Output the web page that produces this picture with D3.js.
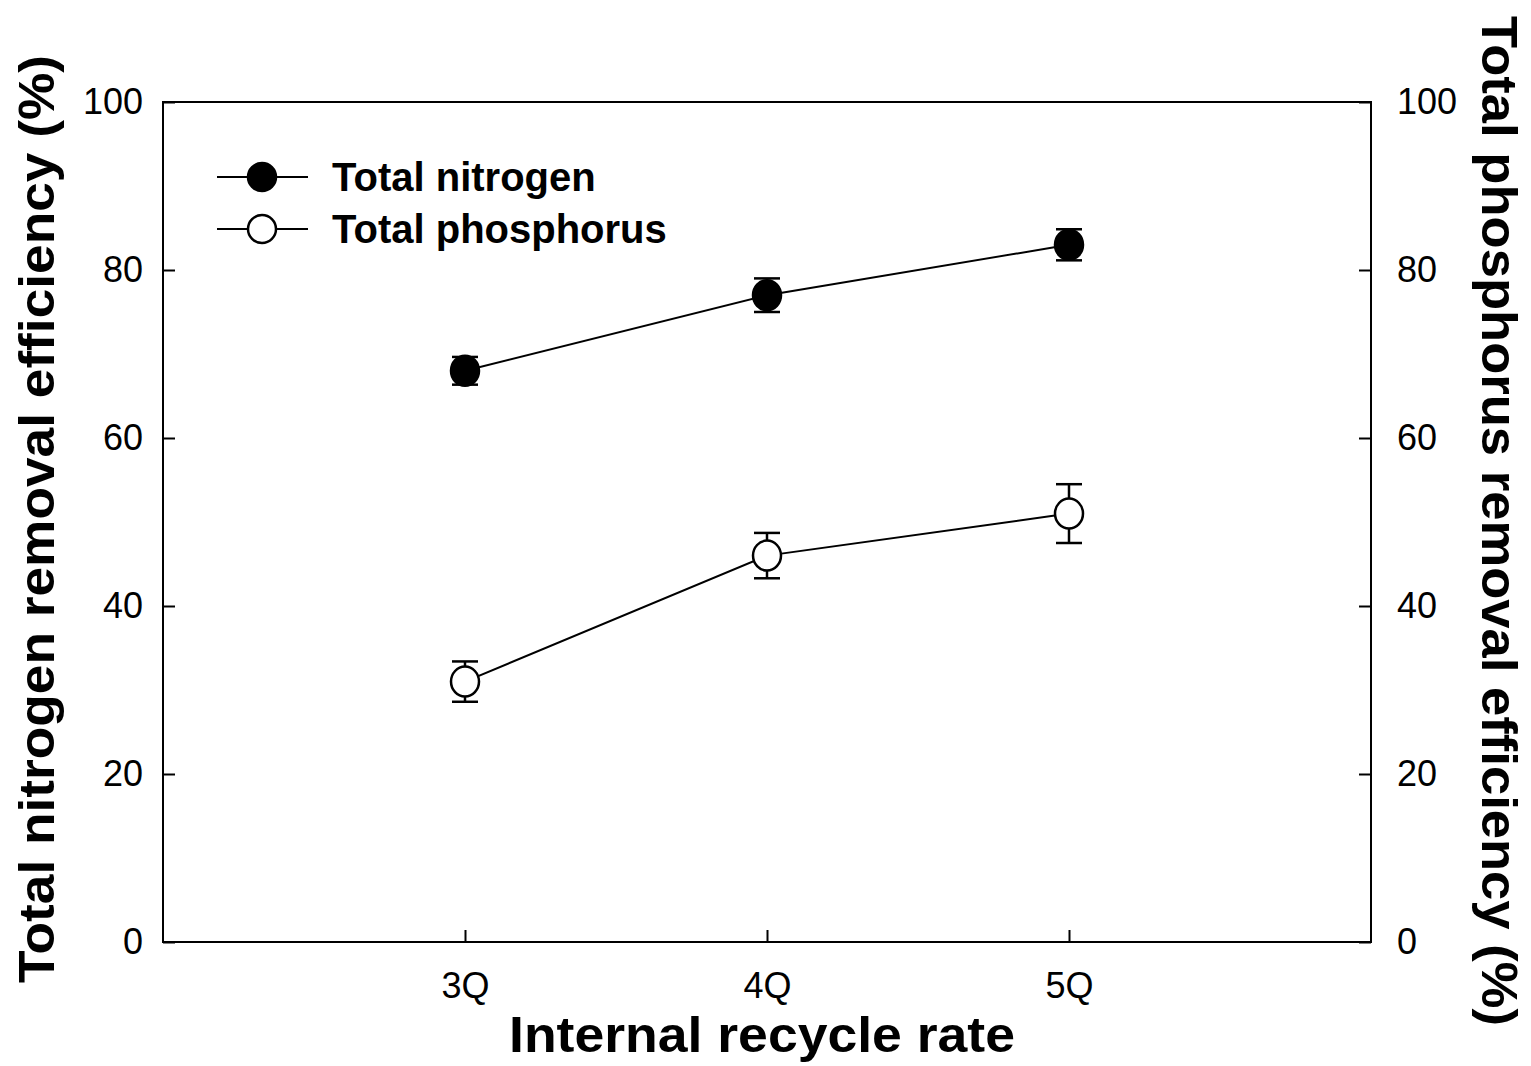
<!DOCTYPE html>
<html>
<head>
<meta charset="utf-8">
<script src="https://cdn.jsdelivr.net/npm/d3@7"></script>
<style>
  html, body { margin: 0; padding: 0; background: #fff; overflow: hidden; }
  svg { display: block; }
  text { font-family: "Liberation Sans", Arial, sans-serif; fill: #000; }
</style>
</head>
<body>
<svg width="1531" height="1066"></svg>
<script>
const svg = d3.select("svg");

// data
const categories = ['3Q', '4Q', '5Q'];
const categoryPos = [3, 4, 5];
const nitrogen = [68, 77, 83];
const nitrogenErr = [1.65, 2.0, 1.85];
const phosphorus = [31, 46, 51];
const phosphorusErr = [2.4, 2.7, 3.5];
const yTicks = [0, 20, 40, 60, 80, 100];

const series = [
  { name: 'Total nitrogen', values: nitrogen, errs: nitrogenErr, fill: '#000' },
  { name: 'Total phosphorus', values: phosphorus, errs: phosphorusErr, fill: '#fff' }
];

// setup
const margin = { top: 102, right: 160, bottom: 124, left: 163 };
const innerWidth = 1531 - margin.left - margin.right;
const innerHeight = 1066 - margin.top - margin.bottom;

const g = svg.append('g')
  .attr('transform', `translate(${margin.left}, ${margin.top})`);

const xScale = d3.scaleLinear().domain([2, 6]).range([0, innerWidth]);
const yScale = d3.scaleLinear().domain([0, 100]).range([innerHeight, 0]);

// frame
g.append('rect')
  .attr('width', innerWidth).attr('height', innerHeight)
  .attr('fill', 'none').attr('stroke', '#000').attr('stroke-width', 2);

// axes (ticks point inward)
const styleAxis = sel => {
  sel.select('.domain').remove();
  sel.selectAll('.tick line').attr('stroke', '#000').attr('stroke-width', 2);
  sel.selectAll('.tick text').style('font-size', '36px').attr('fill', '#000');
};

g.append('g').call(d3.axisLeft(yScale).tickValues(yTicks)
    .tickSizeInner(-12).tickSizeOuter(0).tickPadding(20))
  .call(styleAxis);

g.append('g').attr('transform', `translate(${innerWidth}, 0)`)
  .call(d3.axisRight(yScale).tickValues(yTicks)
    .tickSizeInner(-12).tickSizeOuter(0).tickPadding(26))
  .call(styleAxis);

g.append('g').attr('transform', `translate(0, ${innerHeight})`)
  .call(d3.axisBottom(xScale).tickValues(categoryPos)
    .tickFormat((d, i) => categories[i])
    .tickSizeInner(-12).tickSizeOuter(0).tickPadding(30))
  .call(styleAxis);

// lines, error bars, markers
const line = d3.line()
  .x((d, i) => xScale(categoryPos[i]))
  .y(d => yScale(d));

series.forEach(s => {
  g.append('path')
    .attr('d', line(s.values))
    .attr('fill', 'none').attr('stroke', '#000').attr('stroke-width', 2);

  const eb = g.append('g').selectAll('g').data(s.values).join('g')
    .attr('stroke', '#000').attr('stroke-width', 2.5);
  eb.append('line')
    .attr('x1', (d, i) => xScale(categoryPos[i]))
    .attr('x2', (d, i) => xScale(categoryPos[i]))
    .attr('y1', (d, i) => yScale(d - s.errs[i]))
    .attr('y2', (d, i) => yScale(d + s.errs[i]));
  [-1, 1].forEach(sign => {
    eb.append('line')
      .attr('x1', (d, i) => xScale(categoryPos[i]) - 13)
      .attr('x2', (d, i) => xScale(categoryPos[i]) + 13)
      .attr('y1', (d, i) => yScale(d + sign * s.errs[i]))
      .attr('y2', (d, i) => yScale(d + sign * s.errs[i]));
  });

  g.append('g').selectAll('ellipse').data(s.values).join('ellipse')
    .attr('cx', (d, i) => xScale(categoryPos[i]))
    .attr('cy', d => yScale(d))
    .attr('rx', 14).attr('ry', 15)
    .attr('fill', s.fill).attr('stroke', '#000').attr('stroke-width', 2.5);
});

// legend
const legend = svg.append('g');
series.forEach((s, i) => {
  const y = 177 + i * 52;
  legend.append('line')
    .attr('x1', 217).attr('x2', 308).attr('y1', y).attr('y2', y)
    .attr('stroke', '#000').attr('stroke-width', 2);
  legend.append('circle')
    .attr('cx', 262).attr('cy', y).attr('r', 14)
    .attr('fill', s.fill).attr('stroke', '#000').attr('stroke-width', 2.5);
  legend.append('text')
    .attr('x', 332).attr('y', y + 14)
    .style('font-size', '40px').style('font-weight', 'bold')
    .text(s.name);
});

// axis titles
svg.append('text')
  .attr('x', 762).attr('y', 1052)
  .attr('text-anchor', 'middle')
  .style('font-size', '50px').style('font-weight', 'bold')
  .attr('textLength', 506).attr('lengthAdjust', 'spacingAndGlyphs')
  .text('Internal recycle rate');

svg.append('text')
  .attr('transform', 'translate(54, 519) rotate(-90)')
  .attr('text-anchor', 'middle')
  .style('font-size', '50px').style('font-weight', 'bold')
  .attr('textLength', 928).attr('lengthAdjust', 'spacingAndGlyphs')
  .text('Total nitrogen removal efficiency (%)');

svg.append('text')
  .attr('transform', 'translate(1482, 521) rotate(90)')
  .attr('text-anchor', 'middle')
  .style('font-size', '50px').style('font-weight', 'bold')
  .attr('textLength', 1010).attr('lengthAdjust', 'spacingAndGlyphs')
  .text('Total phosphorus removal efficiency (%)');
</script>
</body>
</html>
